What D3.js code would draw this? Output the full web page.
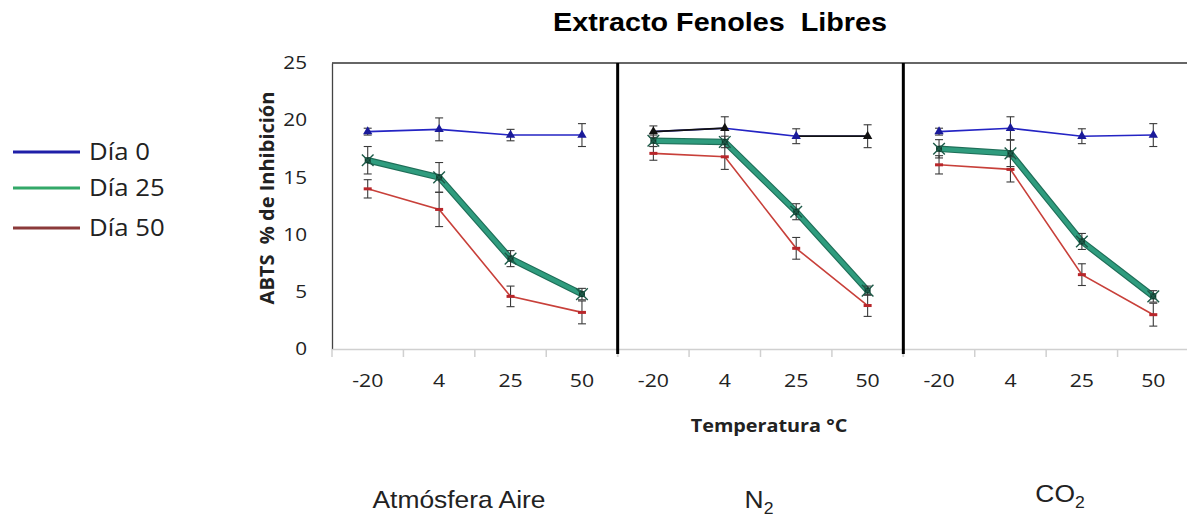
<!DOCTYPE html>
<html>
<head>
<meta charset="utf-8">
<script src="https://cdn.jsdelivr.net/npm/d3@7"></script>
<style>
body { margin: 0; background: #fff; }
text { font-family: "Open Sans", sans-serif; fill: #222; }
</style>
</head>
<body>
<svg id="chart"></svg>
<script>
const width = 1187;
const height = 519;

const temperatures = ["-20", "4", "25", "50"];
const atmospheres = ["Aire", "N2", "CO2"];
const yTicks = [0, 5, 10, 15, 20, 25];
const seriesNames = ["Día 0", "Día 25", "Día 50"];

// one row per atmosphere
const dia0 = [[19.0, 19.2, 18.7, 18.7], [19.0, 19.3, 18.6, 18.6], [19.0, 19.3, 18.6, 18.7]];
const dia0Err = [[0.3, 1.0, 0.5, 1.0], [0.5, 1.0, 0.65, 1.0], [0.3, 1.0, 0.65, 1.0]];
const dia25 = [[16.5, 15.0, 7.9, 4.8], [18.2, 18.1, 12.0, 5.1], [17.5, 17.1, 9.4, 4.6]];
const dia25Err = [[1.2, 1.3, 0.7, 0.5], [0.5, 0.5, 0.7, 0.4], [0.8, 1.15, 0.7, 0.5]];
const dia50 = [[14.0, 12.2, 4.6, 3.2], [17.1, 16.8, 8.8, 3.8], [16.1, 15.7, 6.5, 3.0]];
const dia50Err = [[0.8, 1.5, 0.9, 1.0], [0.6, 1.1, 0.95, 0.95], [0.8, 1.1, 0.95, 1.0]];
// in the N2 panel parts of Día 0 are drawn black
const n2BlackSegments = [[0, 1], [2, 3]];

const colors = { d0: "#2424c4", d25: "#2f9c7e", d50: "#c8403a" };
const legendColors = ["#1f1fa8", "#33a868", "#8b3a3a"];

const svg = d3.select("#chart").attr("width", width).attr("height", height);

const xPanel = d3.scaleBand().domain(atmospheres).range([332, 1189]);
const xTemp = d3.scaleBand().domain(temperatures).range([0, xPanel.bandwidth()]);
const y = d3.scaleLinear().domain([0, 25]).range([349, 63]);
const cx = (i) => xTemp(temperatures[i]) + xTemp.bandwidth() / 2;

// stretched text helper (the source picture is widened)
function label(g, x, yy, txt, size, opts = {}) {
    return g.append("text")
        .attr("transform", `translate(${x},${yy}) scale(${opts.sx || 1},1)`)
        .attr("text-anchor", opts.anchor || "middle")
        .style("font-size", size + "px")
        .style("font-weight", opts.bold ? "bold" : "normal")
        .style("font-family", opts.font || null)
        .text(txt);
}

// title
label(svg, 720, 31, "Extracto Fenoles\u00A0 Libres", 25, { bold: true, sx: 1.15, font: "Liberation Sans, Arial, sans-serif" }).style("fill", "#000");

// y axis
const yAxis = svg.append("g")
    .attr("transform", "translate(332,0)")
    .call(d3.axisLeft(y).tickValues(yTicks).tickSize(0).tickPadding(25));
yAxis.select(".domain").attr("stroke", "#444").attr("stroke-width", 1.3);
yAxis.selectAll("text")
    .style("font-size", "18px").style("font-family", "Open Sans, sans-serif").attr("fill", "#222")
    .attr("transform", `translate(${25 * 0.15},0) scale(1.15,1)`);

label(svg, 0, 0, "ABTS\u00A0 % de Inhibición", 20, { bold: true }).attr("transform", "translate(274,198) rotate(-90)");

// top frame
svg.append("line").attr("x1", 332).attr("x2", width).attr("y1", y(25)).attr("y2", y(25))
    .attr("stroke", "#333").attr("stroke-width", 1.5);

const line = d3.line().x((d, i) => cx(i)).y((d) => y(d));

atmospheres.forEach((atm, p) => {
    const g = svg.append("g").attr("transform", `translate(${xPanel(atm)},0)`);

    const xAxis = g.append("g")
        .attr("transform", `translate(0,${y(0)})`)
        .call(d3.axisBottom(xTemp).tickSize(0).tickPadding(25));
    xAxis.select(".domain").attr("stroke", "#d0d0d0").attr("stroke-width", 1.5);
    xAxis.selectAll(".tick text")
        .style("font-size", "19px").style("font-family", "Open Sans, sans-serif").attr("fill", "#222")
        .attr("transform", "scale(1.12,1)");

    g.selectAll(".bound")
        .data(temperatures.concat(["end"]))
        .join("line")
        .attr("x1", (d) => d === "end" ? xPanel.bandwidth() : xTemp(d))
        .attr("x2", (d) => d === "end" ? xPanel.bandwidth() : xTemp(d))
        .attr("y1", y(0)).attr("y2", y(0) + 8)
        .attr("stroke", "#d0d0d0").attr("stroke-width", 1.5);

    // Día 50
    g.append("path").attr("d", line(dia50[p])).attr("fill", "none")
        .attr("stroke", colors.d50).attr("stroke-width", 1.6);

    // Día 25
    g.append("path").attr("d", line(dia25[p])).attr("fill", "none")
        .attr("stroke", "#1f6e58").attr("stroke-width", 6.5);
    g.append("path").attr("d", line(dia25[p])).attr("fill", "none")
        .attr("stroke", colors.d25).attr("stroke-width", 4.2);

    // Día 0
    g.append("path").attr("d", line(dia0[p])).attr("fill", "none")
        .attr("stroke", colors.d0).attr("stroke-width", 1.6);
    if (atm === "N2") {
        n2BlackSegments.forEach(([a, b]) => {
            g.append("line")
                .attr("x1", cx(a)).attr("y1", y(dia0[p][a]))
                .attr("x2", cx(b)).attr("y2", y(dia0[p][b]))
                .attr("stroke", "#111").attr("stroke-width", 1.8);
        });
    }

    // error bars
    const bars = [[dia0[p], dia0Err[p]], [dia25[p], dia25Err[p]], [dia50[p], dia50Err[p]]];
    bars.forEach(([vals, errs]) => {
        vals.forEach((v, i) => {
            const x = cx(i);
            const eb = g.append("g").attr("stroke", "#3a3a3a").attr("stroke-width", 1.1);
            eb.append("line").attr("x1", x).attr("x2", x).attr("y1", y(v - errs[i])).attr("y2", y(v + errs[i]));
            eb.append("line").attr("x1", x - 4).attr("x2", x + 4).attr("y1", y(v - errs[i])).attr("y2", y(v - errs[i]));
            eb.append("line").attr("x1", x - 4).attr("x2", x + 4).attr("y1", y(v + errs[i])).attr("y2", y(v + errs[i]));
        });
    });

    // markers
    const blackIdx = atm === "N2" ? [0, 1, 3] : [];
    g.selectAll(".m0").data(dia0[p]).join("path")
        .attr("transform", (d, i) => `translate(${cx(i)},${y(d)})`)
        .attr("d", d3.symbol(d3.symbolTriangle, 38))
        .attr("fill", (d, i) => blackIdx.includes(i) ? "#111" : "#1a1a9a");

    g.selectAll(".m25").data(dia25[p]).join("path")
        .attr("transform", (d, i) => `translate(${cx(i)},${y(d)})`)
        .attr("d", d3.symbol(d3.symbolSquare, 36))
        .attr("fill", "#0f3d2e");
    g.selectAll(".m25x").data(dia25[p]).join("path")
        .attr("transform", (d, i) => `translate(${cx(i)},${y(d)})`)
        .attr("d", d3.symbol(d3.symbolTimes, 90))
        .attr("fill", "none").attr("stroke", "#1d5a48").attr("stroke-width", 1.4);

    g.selectAll(".m50").data(dia50[p]).join("rect")
        .attr("x", (d, i) => cx(i) - 4).attr("y", (d) => y(d) - 1.5)
        .attr("width", 8).attr("height", 3)
        .attr("fill", "#b8262a");
});

// panel separators
atmospheres.slice(1).forEach((atm) => {
    svg.append("line")
        .attr("x1", xPanel(atm)).attr("x2", xPanel(atm))
        .attr("y1", y(25)).attr("y2", y(0) + 5)
        .attr("stroke", "#000").attr("stroke-width", 3);
});

label(svg, 769, 432, "Temperatura °C", 18, { bold: true, sx: 1.1 });

// legend
const legend = svg.append("g");
seriesNames.forEach((name, i) => {
    const ly = [152, 188, 228][i];
    legend.append("line").attr("x1", 13).attr("x2", 80).attr("y1", ly).attr("y2", ly)
        .attr("stroke", legendColors[i]).attr("stroke-width", 3);
    label(legend, 89, ly + 8, name, 23, { anchor: "start", sx: 1.12 });
});

// atmosphere labels
const bottomFont = "Liberation Sans, Arial, sans-serif";
label(svg, 459, 508, "Atmósfera Aire", 24, { sx: 1.1, font: bottomFont });

const n2 = svg.append("text").attr("transform", "translate(759,508) scale(1.1,1)")
    .attr("text-anchor", "middle").style("font-family", bottomFont).style("font-size", "24px");
n2.append("tspan").text("N");
n2.append("tspan").attr("dy", 6).style("font-size", "16px").text("2");

const co2 = svg.append("text").attr("transform", "translate(1060,502) scale(1.1,1)")
    .attr("text-anchor", "middle").style("font-family", bottomFont).style("font-size", "24px");
co2.append("tspan").text("CO");
co2.append("tspan").attr("dy", 6).style("font-size", "16px").text("2");
</script>
</body>
</html>
